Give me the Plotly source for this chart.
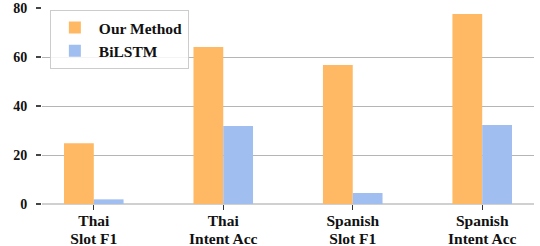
import plotly.graph_objects as go

cat_line1 = ["Thai", "Thai", "Spanish", "Spanish"]
cat_line2 = ["Slot F1", "Intent Acc", "Slot F1", "Intent Acc"]
our_method = [24.8, 64.1, 56.7, 77.6]
bilstm = [1.9, 31.8, 4.5, 32.2]
y_ticks = [0, 20, 40, 60, 80]

positions = list(range(len(cat_line1)))
FONT = "Times New Roman, Liberation Serif, serif"

fig = go.Figure()
fig.add_trace(go.Bar(name="Our Method", x=positions, y=our_method,
                     marker=dict(color="#FFB964", line=dict(width=0)), hoverinfo="skip"))
fig.add_trace(go.Bar(name="BiLSTM", x=positions, y=bilstm,
                     marker=dict(color="#A1BEF0", line=dict(width=0)), hoverinfo="skip"))
# invisible helper so the second-line tick labels axis is rendered
fig.add_trace(go.Scatter(x=positions, y=bilstm, xaxis="x2", mode="markers",
                         marker=dict(opacity=0), showlegend=False, hoverinfo="skip"))

fig.update_layout(
    width=540, height=246,
    margin=dict(l=42, r=6, t=8, b=42),
    paper_bgcolor="white", plot_bgcolor="white",
    barmode="group", bargap=0.54, bargroupgap=0,
    font=dict(family=FONT, size=16, color="#111111", weight="bold"),
    legend=dict(x=0.016, y=0.99, xanchor="left", yanchor="top",
                bgcolor="rgba(255,255,255,0.85)", bordercolor="#cccccc", borderwidth=1,
                font=dict(family=FONT, size=15.5, weight="bold", color="#111111"),
                itemwidth=38, tracegroupgap=0),
    showlegend=True,
    xaxis=dict(
        range=[-0.4, 3.4], tickvals=positions, ticktext=cat_line1,
        showgrid=False, showline=False, zeroline=False,
        ticks="outside", ticklen=5, tickwidth=1, tickcolor="#333333",
        tickfont=dict(family=FONT, size=15.5, weight="bold"), automargin=False,
        ticklabelstandoff=-3,
    ),
    xaxis2=dict(
        overlaying="x", side="bottom", anchor="y",
        range=[-0.4, 3.4], tickvals=positions, ticktext=cat_line2,
        showgrid=False, showline=False, zeroline=False, ticks="",
        tickfont=dict(family=FONT, size=15.5, weight="bold"), automargin=False,
        ticklabelstandoff=23,
    ),
    yaxis=dict(
        range=[0, 80], tickvals=y_ticks, showgrid=True, gridcolor="#b5b5b5", gridwidth=1,
        zeroline=True, zerolinecolor="#d0d0d0", zerolinewidth=2, showline=False,
        ticks="outside", ticklen=5, tickwidth=2, tickcolor="#444444",
        tickfont=dict(family=FONT, size=14, weight="bold"), automargin=False,
        ticklabelstandoff=6,
    ),
)
fig.update_traces(cliponaxis=False)

fig.write_html("out.html", config={"displayModeBar": False},
               post_script="document.body.style.margin='0';")
